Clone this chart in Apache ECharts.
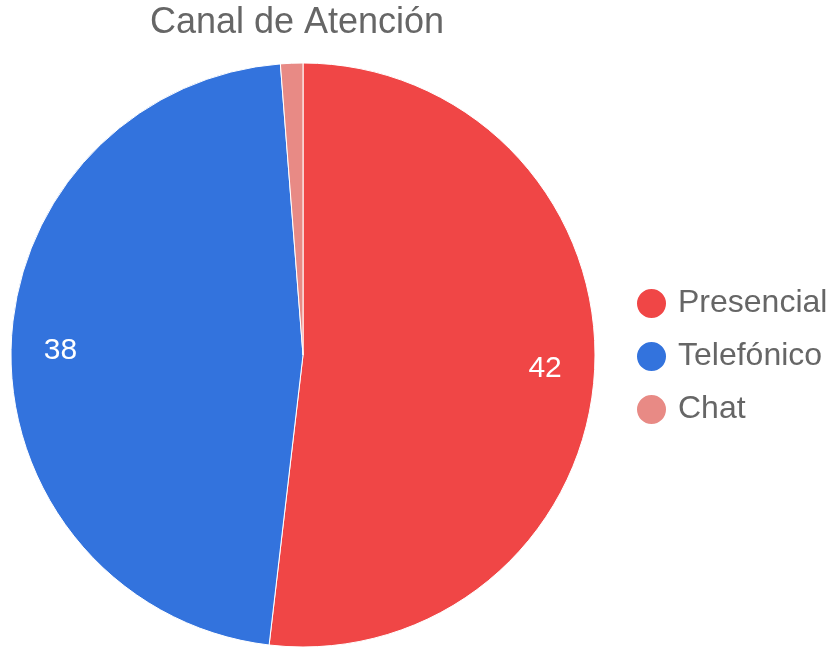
<!DOCTYPE html>
<html><head><meta charset="utf-8">
<script src="https://cdn.jsdelivr.net/npm/echarts@6/dist/echarts.min.js"></script>
<style>html,body{margin:0;padding:0;background:#fff}#c{width:833px;height:647px}</style>
</head><body><div id="c"></div>
<script>
const categories = ['Presencial', 'Telefónico', 'Chat'];
const values = [42, 38, 1];
const colors = ['#F04646', '#3373DD', '#E88A85'];
const title = 'Canal de Atención';

const data = categories.map((n, i) => ({ name: n, value: values[i], itemStyle: { color: colors[i] } }));
const chart = echarts.init(document.getElementById('c'), null, { renderer: 'canvas' });
const font = '"Liberation Sans", Arial, sans-serif';
chart.setOption({
  animation: false,
  title: { text: title, left: 297, top: 5, padding: 0, textAlign: 'center',
    textStyle: { fontFamily: font, fontSize: 36, fontWeight: 'normal', color: '#666666' } },
  legend: {
    orient: 'vertical', left: 635, top: 287, itemGap: 20, padding: 0,
    icon: 'circle', itemWidth: 31, itemHeight: 31,
    data: categories,
    textStyle: { fontFamily: font, fontSize: 32, color: '#666666', padding: [0, 0, 0, 6] }
  },
  series: [
    {
      type: 'pie', center: [303, 355], radius: [0, 292], startAngle: 90, clockwise: true,
      data: data, label: { show: false }, labelLine: { show: false },
      itemStyle: { borderWidth: 1, borderColor: '#ffffff' },
      emphasis: { disabled: true }
    },
    {
      type: 'pie', center: [303, 355], radius: [187, 292], startAngle: 90, clockwise: true,
      silent: true, legendHoverLink: false,
      data: categories.map((n, i) => ({ name: n, value: values[i],
        itemStyle: { color: 'rgba(0,0,0,0)', borderWidth: 0 },
        label: { show: i < 2 } })),
      label: { show: true, position: 'inside', formatter: '{c}', color: '#ffffff',
        fontFamily: font, fontSize: 30 },
      labelLine: { show: false },
      emphasis: { disabled: true }
    }
  ]
});
</script></body></html>
